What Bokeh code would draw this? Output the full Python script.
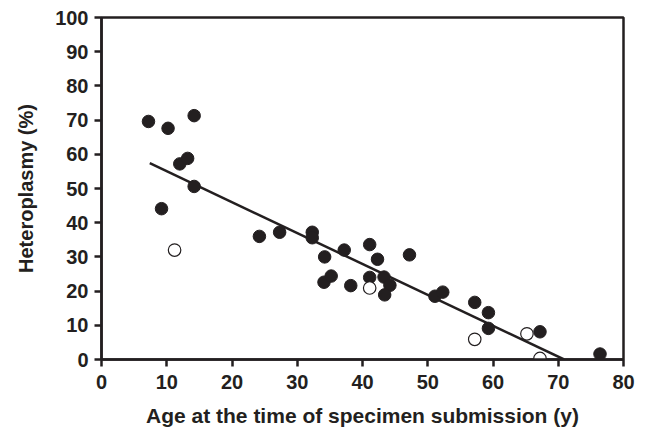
from bokeh.plotting import figure
from bokeh.models import Range1d, FixedTicker
from bokeh.embed import file_html
from bokeh.resources import INLINE

# Filled circles
filled_age = [7.2, 10.2, 14.2, 12.0, 13.2, 14.2, 9.2, 24.2, 27.3, 32.3, 32.3, 34.2, 37.2,
              41.1, 42.3, 47.2, 34.1, 35.2, 38.2, 41.1, 43.3, 44.2, 43.4, 51.1, 52.3,
              57.2, 59.3, 59.3, 67.2, 76.4]
filled_het = [69.6, 67.6, 71.3, 57.2, 58.8, 50.6, 44.1, 36.0, 37.2, 37.2, 35.6, 30.0, 32.0,
              33.6, 29.3, 30.6, 22.6, 24.4, 21.6, 24.0, 24.1, 21.7, 18.9, 18.5, 19.7,
              16.7, 13.7, 9.1, 8.1, 1.6]
# Open circles
open_age = [11.2, 41.1, 57.2, 65.2, 67.2]
open_het = [32.0, 20.9, 5.9, 7.5, 0.3]
# Regression line
fit_age = [7.4, 70.9]
fit_het = [57.4, 0.0]

x_ticks = [0, 10, 20, 30, 40, 50, 60, 70, 80]
y_ticks = [0, 10, 20, 30, 40, 50, 60, 70, 80, 90, 100]

FONT = "Liberation Sans"
INK = "#231f20"

p = figure(width=645, height=429, output_backend="svg", toolbar_location=None,
           x_range=Range1d(0, 80), y_range=Range1d(0, 100),
           min_border_left=101, min_border_right=22, min_border_top=17, min_border_bottom=70)

p.xgrid.visible = False
p.ygrid.visible = False
p.background_fill_color = "white"
p.border_fill_color = "white"
p.outline_line_color = INK
p.outline_line_width = 2.5
p.outline_line_alpha = 1.0

p.line(fit_age, fit_het, line_color=INK, line_width=2.5)
p.scatter(filled_age, filled_het, size=12.5, fill_color=INK, line_color=INK, line_width=1)
p.scatter(open_age, open_het, size=12.5, fill_color="white", line_color=INK, line_width=1.2)

for ax, ticks in ((p.xaxis, x_ticks), (p.yaxis, y_ticks)):
    ax.ticker = FixedTicker(ticks=ticks)
    ax.minor_tick_line_color = None
    ax.major_tick_in = 0
    ax.major_tick_out = 7
    ax.major_tick_line_width = 2.5
    ax.major_tick_line_color = INK
    ax.axis_line_width = 2.5
    ax.axis_line_color = INK
    ax.major_label_text_font = FONT
    ax.major_label_text_font_style = "bold"
    ax.major_label_text_font_size = "20px"
    ax.major_label_text_color = INK
    ax.axis_label_text_font = FONT
    ax.axis_label_text_font_style = "bold"
    ax.axis_label_text_color = INK

p.xaxis.axis_label = "Age at the time of specimen submission (y)"
p.yaxis.axis_label = "Heteroplasmy (%)"
p.xaxis.axis_label_text_font_size = "21px"
p.yaxis.axis_label_text_font_size = "20px"
p.xaxis.major_label_standoff = 8
p.yaxis.major_label_standoff = 6
p.xaxis.axis_label_standoff = 12
p.yaxis.axis_label_standoff = 15

open("out.html", "w").write(file_html(p, INLINE))
